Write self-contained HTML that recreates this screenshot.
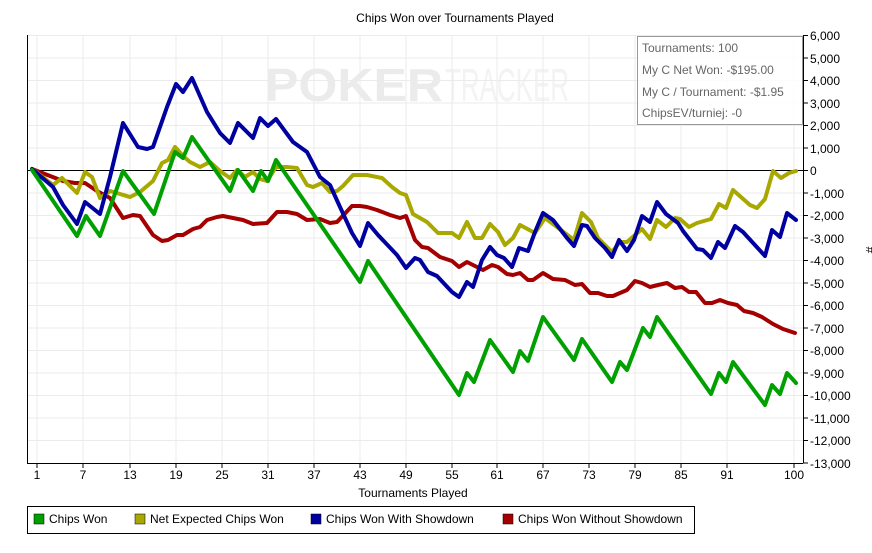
<!DOCTYPE html>
<html><head><meta charset="utf-8"><style>
body{margin:0;background:#fff;font-family:"Liberation Sans",Arial,sans-serif}
</style></head><body>
<svg width="872" height="548" viewBox="0 0 872 548" xmlns="http://www.w3.org/2000/svg" font-family="Liberation Sans, Arial, sans-serif">
<rect width="872" height="548" fill="#fff"/>
<text x="455" y="22" font-size="12" text-anchor="middle" fill="#000">Chips Won over Tournaments Played</text>
<text x="265" y="101" font-size="46" fill="#ebebeb" font-weight="bold" textLength="178" lengthAdjust="spacingAndGlyphs">POKER</text>
<text x="445" y="101" font-size="46" fill="#f3f3f3" textLength="124" lengthAdjust="spacingAndGlyphs">TRACKER</text>
<g stroke="#ebebeb" stroke-width="1">
<line x1="37" y1="35" x2="37" y2="463"/><line x1="83" y1="35" x2="83" y2="463"/><line x1="130" y1="35" x2="130" y2="463"/><line x1="176" y1="35" x2="176" y2="463"/><line x1="222" y1="35" x2="222" y2="463"/><line x1="268" y1="35" x2="268" y2="463"/><line x1="314" y1="35" x2="314" y2="463"/><line x1="360" y1="35" x2="360" y2="463"/><line x1="406" y1="35" x2="406" y2="463"/><line x1="452" y1="35" x2="452" y2="463"/><line x1="497" y1="35" x2="497" y2="463"/><line x1="543" y1="35" x2="543" y2="463"/><line x1="589" y1="35" x2="589" y2="463"/><line x1="635" y1="35" x2="635" y2="463"/><line x1="681" y1="35" x2="681" y2="463"/><line x1="727" y1="35" x2="727" y2="463"/><line x1="794" y1="35" x2="794" y2="463"/>
<line x1="27" y1="35.5" x2="803" y2="35.5"/><line x1="27" y1="58" x2="803" y2="58"/><line x1="27" y1="80.5" x2="803" y2="80.5"/><line x1="27" y1="103" x2="803" y2="103"/><line x1="27" y1="125.5" x2="803" y2="125.5"/><line x1="27" y1="148" x2="803" y2="148"/><line x1="27" y1="193" x2="803" y2="193"/><line x1="27" y1="215.5" x2="803" y2="215.5"/><line x1="27" y1="238" x2="803" y2="238"/><line x1="27" y1="260.5" x2="803" y2="260.5"/><line x1="27" y1="283" x2="803" y2="283"/><line x1="27" y1="305.5" x2="803" y2="305.5"/><line x1="27" y1="328" x2="803" y2="328"/><line x1="27" y1="350.5" x2="803" y2="350.5"/><line x1="27" y1="373" x2="803" y2="373"/><line x1="27" y1="395.5" x2="803" y2="395.5"/><line x1="27" y1="418" x2="803" y2="418"/><line x1="27" y1="440.5" x2="803" y2="440.5"/>
</g>
<line x1="27" y1="170.5" x2="803" y2="170.5" stroke="#000" stroke-width="1"/>
<line x1="27.5" y1="35" x2="27.5" y2="463" stroke="#000"/>
<line x1="803.5" y1="35" x2="803.5" y2="463" stroke="#000"/>
<line x1="27" y1="463.5" x2="803" y2="463.5" stroke="#000"/>
<g stroke="#000"><line x1="803" y1="35.5" x2="808" y2="35.5"/><line x1="803" y1="58" x2="808" y2="58"/><line x1="803" y1="80.5" x2="808" y2="80.5"/><line x1="803" y1="103" x2="808" y2="103"/><line x1="803" y1="125.5" x2="808" y2="125.5"/><line x1="803" y1="148" x2="808" y2="148"/><line x1="803" y1="170.5" x2="808" y2="170.5"/><line x1="803" y1="193" x2="808" y2="193"/><line x1="803" y1="215.5" x2="808" y2="215.5"/><line x1="803" y1="238" x2="808" y2="238"/><line x1="803" y1="260.5" x2="808" y2="260.5"/><line x1="803" y1="283" x2="808" y2="283"/><line x1="803" y1="305.5" x2="808" y2="305.5"/><line x1="803" y1="328" x2="808" y2="328"/><line x1="803" y1="350.5" x2="808" y2="350.5"/><line x1="803" y1="373" x2="808" y2="373"/><line x1="803" y1="395.5" x2="808" y2="395.5"/><line x1="803" y1="418" x2="808" y2="418"/><line x1="803" y1="440.5" x2="808" y2="440.5"/><line x1="803" y1="463" x2="808" y2="463"/>
<line x1="37" y1="463" x2="37" y2="468"/><line x1="83" y1="463" x2="83" y2="468"/><line x1="130" y1="463" x2="130" y2="468"/><line x1="176" y1="463" x2="176" y2="468"/><line x1="222" y1="463" x2="222" y2="468"/><line x1="268" y1="463" x2="268" y2="468"/><line x1="314" y1="463" x2="314" y2="468"/><line x1="360" y1="463" x2="360" y2="468"/><line x1="406" y1="463" x2="406" y2="468"/><line x1="452" y1="463" x2="452" y2="468"/><line x1="497" y1="463" x2="497" y2="468"/><line x1="543" y1="463" x2="543" y2="468"/><line x1="589" y1="463" x2="589" y2="468"/><line x1="635" y1="463" x2="635" y2="468"/><line x1="681" y1="463" x2="681" y2="468"/><line x1="727" y1="463" x2="727" y2="468"/><line x1="794" y1="463" x2="794" y2="468"/></g>
<g font-size="12" fill="#000">
<text x="810" y="40">6,000</text><text x="810" y="63">5,000</text><text x="810" y="85">4,000</text><text x="810" y="108">3,000</text><text x="810" y="130">2,000</text><text x="810" y="153">1,000</text><text x="810" y="175">0</text><text x="810" y="198">-1,000</text><text x="810" y="220">-2,000</text><text x="810" y="243">-3,000</text><text x="810" y="265">-4,000</text><text x="810" y="288">-5,000</text><text x="810" y="310">-6,000</text><text x="810" y="333">-7,000</text><text x="810" y="355">-8,000</text><text x="810" y="378">-9,000</text><text x="810" y="400">-10,000</text><text x="810" y="423">-11,000</text><text x="810" y="445">-12,000</text><text x="810" y="468">-13,000</text>
</g>
<g font-size="12" fill="#000" text-anchor="middle">
<text x="37" y="479">1</text><text x="83" y="479">7</text><text x="130" y="479">13</text><text x="176" y="479">19</text><text x="222" y="479">25</text><text x="268" y="479">31</text><text x="314" y="479">37</text><text x="360" y="479">43</text><text x="406" y="479">49</text><text x="452" y="479">55</text><text x="497" y="479">61</text><text x="543" y="479">67</text><text x="589" y="479">73</text><text x="635" y="479">79</text><text x="681" y="479">85</text><text x="727" y="479">91</text><text x="794" y="479">100</text>
<text x="413" y="497">Tournaments Played</text>
</g>
<text x="866" y="250" font-size="12" transform="rotate(90 866 250)" text-anchor="middle">#</text>
<g fill="none" stroke-width="4" stroke-linejoin="round" stroke-linecap="round">
<polyline stroke="#a50000" points="32,169 63,181 75,183 85,183 97,191 110,198 123,218 133,215 140,216 153,235 162,241 168,240 177,235 183,235 193,229 200,227 207,220 217,217 223,216 233,218 243,220 253,224 267,223 277,212 287,212 297,214 307,220 320,219 330,223 337,222 352,206 360,206 367,207 377,210 390,215 400,218 406,216 415,240 422,247 428,248 440,257 452,261 459,267 467,262 477,267 483,270 492,265 498,267 507,274 513,275 520,273 528,280 533,280 543,273 553,279 565,280 575,285 582,284 590,293 598,293 607,296 613,296 627,290 635,281 642,283 650,287 658,285 667,283 675,288 682,287 689,292 696,292 705,303 712,303 720,300 728,303 737,305 744,311 753,313 762,317 773,324 783,329 795,333"/>
<polyline stroke="#a8a800" points="32,169 53,185 62,178 77,193 85,172 92,177 100,198 110,191 130,197 140,192 153,181 162,163 168,160 175,147 183,156 190,162 200,167 210,162 220,171 230,178 237,170 245,177 253,172 260,179 267,181 276,167 287,167 297,168 307,185 313,187 322,183 330,192 337,191 343,186 353,175 367,175 382,178 392,187 400,193 406,195 413,214 427,222 438,233 452,233 459,238 467,222 475,238 482,238 490,224 498,232 505,245 513,238 520,225 535,233 545,218 557,227 574,240 582,213 591,222 598,238 612,252 620,242 627,242 642,229 650,239 657,220 666,227 675,218 680,219 689,227 697,223 711,219 719,204 726,208 733,190 750,205 757,208 765,199 773,171 781,178 789,173 796,171"/>
<polyline stroke="#0000a0" points="32,169 53,187 63,205 77,224 85,202 100,214 110,177 123,123 138,147 147,149 153,147 167,107 176,84 183,92 192,78 207,112 220,133 230,143 238,123 253,138 260,118 268,126 276,119 293,142 307,152 320,177 330,185 340,207 352,233 360,246 368,223 378,235 397,255 406,268 415,258 420,260 428,272 437,276 452,292 459,297 467,282 473,287 482,260 490,247 497,255 504,258 512,267 519,248 528,251 535,232 543,213 553,220 567,238 574,246 582,225 587,226 595,238 605,248 612,257 619,240 627,251 634,240 642,216 650,222 657,202 666,214 678,223 683,231 697,249 703,250 711,258 718,242 725,248 735,226 743,232 765,256 772,230 780,237 787,213 796,220"/>
<polyline stroke="#00a000" points="32,170 77,236 86,216 100,236 123,171 154,214 175,152 183,158 192,137 230,191 238,170 253,191 261,171 268,181 276,160 360,282 368,261 459,395 467,373 474,382 490,340 513,372 520,351 528,361 543,317 574,360 582,339 612,382 620,362 627,370 643,328 650,337 657,317 711,394 719,373 726,382 733,362 765,405 772,385 780,394 787,373 796,383"/>
</g>
<rect x="637.5" y="36.5" width="165" height="88" fill="#fff" fill-opacity="0.85" stroke="#999"/>
<g font-size="12" fill="#666">
<text x="642" y="52">Tournaments: 100</text>
<text x="642" y="74">My C Net Won: -$195.00</text>
<text x="642" y="96">My C / Tournament: -$1.95</text>
<text x="642" y="117">ChipsEV/turniej: -0</text>
</g>
<rect x="27.5" y="506.5" width="667" height="27" fill="#fff" stroke="#000"/>
<g font-size="12" fill="#000">
<rect x="34" y="514" width="10" height="10" fill="#00a000" stroke="#000" stroke-width="0.5"/><text x="49" y="523">Chips Won</text>
<rect x="135" y="514" width="10" height="10" fill="#a8a800" stroke="#000" stroke-width="0.5"/><text x="150" y="523">Net Expected Chips Won</text>
<rect x="311" y="514" width="10" height="10" fill="#0000a0" stroke="#000" stroke-width="0.5"/><text x="326" y="523">Chips Won With Showdown</text>
<rect x="503" y="514" width="10" height="10" fill="#a50000" stroke="#000" stroke-width="0.5"/><text x="518" y="523">Chips Won Without Showdown</text>
</g>
</svg>
</body></html>
